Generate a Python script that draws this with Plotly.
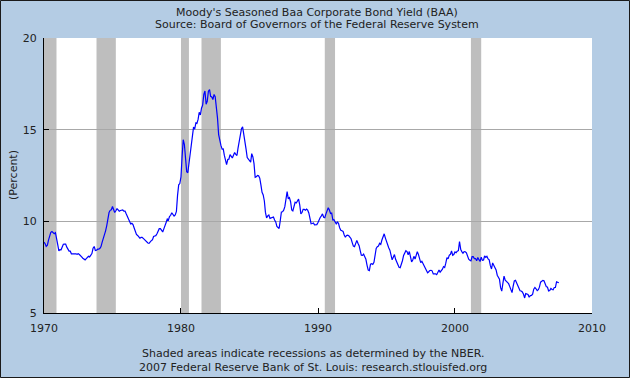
import plotly.graph_objects as go
import pandas as pd

# Monthly Moody's Baa yields (percent), Jan 1970 - Aug 2007
baa_1970s = [
    8.86, 8.78, 8.63, 8.70, 8.98, 9.25, 9.40, 9.44, 9.39, 9.33, 9.38, 9.12,
    8.74, 8.39, 8.46, 8.45, 8.62, 8.75, 8.76, 8.76, 8.59, 8.48, 8.38, 8.38,
    8.23, 8.23, 8.24, 8.24, 8.23, 8.20, 8.23, 8.19, 8.09, 8.06, 7.99, 7.93,
    7.90, 7.97, 8.03, 8.09, 8.06, 8.13, 8.24, 8.53, 8.63, 8.41, 8.42, 8.48,
    8.48, 8.53, 8.62, 8.87, 9.05, 9.27, 9.48, 9.77, 10.18, 10.48, 10.60, 10.63,
    10.81, 10.65, 10.48, 10.58, 10.69, 10.62, 10.55, 10.59, 10.61, 10.62, 10.56, 10.56,
    10.41, 10.24, 10.12, 9.94, 9.86, 9.89, 9.82, 9.64, 9.40, 9.29, 9.23, 9.12,
    9.08, 9.12, 9.12, 9.07, 9.01, 8.91, 8.87, 8.82, 8.80, 8.89, 8.95, 8.99,
    9.17, 9.20, 9.22, 9.32, 9.49, 9.60, 9.60, 9.48, 9.42, 9.59, 9.83, 9.94,
    10.13, 10.08, 10.26, 10.33, 10.47, 10.38, 10.29, 10.35, 10.54, 11.40, 11.99, 12.06,
]
baa_1980s = [
    12.42, 13.57, 14.45, 14.19, 13.17, 12.71, 12.65, 13.15, 13.70, 14.23, 14.64, 15.14,
    15.03, 15.37, 15.34, 15.56, 15.95, 15.80, 16.17, 16.34, 16.92, 17.11, 16.39, 16.55,
    17.10, 17.18, 16.82, 16.78, 16.64, 16.92, 16.80, 16.32, 15.63, 14.73, 14.30, 14.14,
    13.94, 13.95, 13.61, 13.29, 13.09, 13.37, 13.39, 13.64, 13.55, 13.46, 13.61, 13.75,
    13.65, 13.59, 13.99, 14.31, 14.74, 15.05, 15.15, 14.63, 14.35, 13.94, 13.48, 13.40,
    13.26, 13.23, 13.69, 13.51, 13.15, 12.40, 12.43, 12.50, 12.48, 12.36, 11.99, 11.58,
    11.44, 11.11, 10.50, 10.19, 10.29, 10.34, 10.16, 10.18, 10.20, 10.24, 10.07, 9.97,
    9.72, 9.65, 9.61, 10.04, 10.51, 10.52, 10.61, 10.80, 11.31, 11.62, 11.23, 11.29,
    11.07, 10.62, 10.57, 10.90, 11.04, 11.00, 11.11, 11.21, 10.90, 10.41, 10.48, 10.65,
    10.65, 10.61, 10.67, 10.61, 10.46, 10.03, 9.87, 9.88, 9.91, 9.81, 9.81, 9.82,
]
baa_1990s = [
    9.94, 10.14, 10.21, 10.30, 10.41, 10.22, 10.20, 10.41, 10.64, 10.74, 10.62, 10.43,
    10.45, 10.07, 10.09, 9.94, 9.86, 9.96, 9.89, 9.65, 9.51, 9.49, 9.45, 9.26,
    9.13, 9.23, 9.25, 9.21, 9.13, 9.05, 8.84, 8.65, 8.62, 8.84, 8.96, 8.81,
    8.67, 8.39, 8.15, 8.14, 8.21, 8.07, 7.93, 7.60, 7.34, 7.31, 7.66, 7.69,
    7.65, 7.76, 8.13, 8.52, 8.62, 8.65, 8.80, 8.74, 8.98, 9.20, 9.32, 9.10,
    8.88, 8.77, 8.56, 8.43, 8.07, 7.90, 8.04, 8.19, 7.93, 7.75, 7.68, 7.49,
    7.47, 7.63, 7.85, 8.14, 8.30, 8.40, 8.35, 8.18, 8.35, 8.07, 7.79, 7.89,
    8.09, 7.94, 8.18, 8.34, 8.20, 8.02, 7.75, 7.82, 7.70, 7.57, 7.42, 7.32,
    7.19, 7.25, 7.32, 7.33, 7.30, 7.13, 7.15, 7.14, 7.09, 7.18, 7.34, 7.23,
    7.29, 7.39, 7.53, 7.48, 7.72, 8.02, 7.95, 8.15, 8.20, 8.38, 8.15, 8.19,
]
baa_2000s = [
    8.33, 8.29, 8.37, 8.40, 8.90, 8.48, 8.35, 8.26, 8.35, 8.34, 8.28, 8.02,
    7.93, 7.87, 7.84, 8.07, 8.07, 7.97, 7.97, 7.85, 8.03, 7.91, 7.81, 8.05,
    7.87, 7.89, 8.11, 8.03, 8.09, 7.95, 7.90, 7.58, 7.40, 7.73, 7.62, 7.45,
    7.35, 7.06, 6.95, 6.85, 6.38, 6.19, 6.62, 7.01, 6.79, 6.73, 6.66, 6.60,
    6.44, 6.27, 6.11, 6.46, 6.75, 6.78, 6.62, 6.46, 6.27, 6.21, 6.20, 6.15,
    6.02, 5.82, 6.06, 6.05, 6.01, 5.86, 5.95, 5.96, 6.03, 6.30, 6.39, 6.32,
    6.22, 6.27, 6.41, 6.68, 6.75, 6.78, 6.76, 6.59, 6.43, 6.42, 6.20, 6.22,
    6.34, 6.28, 6.27, 6.39, 6.39, 6.70, 6.65, 6.65,
]

recession_starts = ["1969-12-01", "1973-11-01", "1980-01-01", "1981-07-01", "1990-07-01", "2001-03-01"]
recession_ends = ["1970-11-30", "1975-03-31", "1980-07-31", "1982-11-30", "1991-03-31", "2001-11-30"]

x_tick_vals = ["1970-01-01", "1980-01-01", "1990-01-01", "2000-01-01", "2010-01-01"]
x_tick_text = ["1970", "1980", "1990", "2000", "2010"]
y_tick_vals = [5, 10, 15, 20]

values = baa_1970s + baa_1980s + baa_1990s + baa_2000s
dates = pd.date_range("1970-01-01", periods=len(values), freq="MS")

BG = "#B4CCE4"
FONT = "DejaVu Sans"
TXT = "#222222"

fig = go.Figure()
fig.add_trace(go.Scatter(x=dates, y=values, mode="lines",
                         line=dict(color="#0000FF", width=1.2),
                         hoverinfo="skip", showlegend=False))

shapes = []
for s, e in zip(recession_starts, recession_ends):
    shapes.append(dict(type="rect", xref="x", yref="paper", x0=s, x1=e, y0=0, y1=1,
                       fillcolor="#BEBEBE", line=dict(width=0), layer="below"))
# outer border of the image
pw, ph = 548.0, 275.0
shapes.append(dict(type="rect", xref="paper", yref="paper",
                   x0=(0.5 - 44) / pw, x1=(629.5 - 44) / pw,
                   y0=(313 - 377.5) / ph, y1=(313 - 0.5) / ph,
                   line=dict(color="#1a1a1a", width=1), fillcolor="rgba(0,0,0,0)", layer="above"))


def px_ann(text, px_x, px_y, angle=0):
    return dict(text=text, xref="paper", yref="paper",
                x=(px_x - 44) / pw, y=(313 - px_y) / ph,
                xanchor="center", yanchor="middle", textangle=angle,
                showarrow=False, font=dict(size=11, color=TXT, family=FONT))


annotations = [
    px_ann("Moody's Seasoned Baa Corporate Bond Yield (BAA)", 317, 12),
    px_ann("Source: Board of Governors of the Federal Reserve System", 317, 25),
    px_ann("(Percent)", 13, 175, -90),
    px_ann("Shaded areas indicate recessions as determined by the NBER.", 313, 353),
    px_ann("2007 Federal Reserve Bank of St. Louis: research.stlouisfed.org", 313, 367),
]

fig.update_layout(
    width=630, height=378,
    margin=dict(l=44, r=38, t=38, b=65, pad=0),
    paper_bgcolor=BG, plot_bgcolor="white",
    font=dict(family=FONT, size=11, color=TXT),
    shapes=shapes, annotations=annotations,
    xaxis=dict(type="date", range=["1970-01-01", "2010-01-01"],
               tickmode="array", tickvals=x_tick_vals, ticktext=x_tick_text,
               ticks="inside", ticklen=5, tickcolor="black", tickwidth=1,
               ticklabelstandoff=5,
               showline=True, linecolor="black", linewidth=1,
               showgrid=False, zeroline=False, fixedrange=True),
    yaxis=dict(range=[5, 20], tickmode="array", tickvals=y_tick_vals,
               ticks="inside", ticklen=5, tickcolor="black", tickwidth=1,
               ticklabelstandoff=4,
               showline=True, linecolor="black", linewidth=1,
               showgrid=True, gridcolor="#A8A8A8", gridwidth=1,
               zeroline=False, fixedrange=True),
)

fig.write_html("out.html", config={"displayModeBar": False, "staticPlot": True},
               post_script="document.body.style.margin='0';document.body.style.padding='0';")
